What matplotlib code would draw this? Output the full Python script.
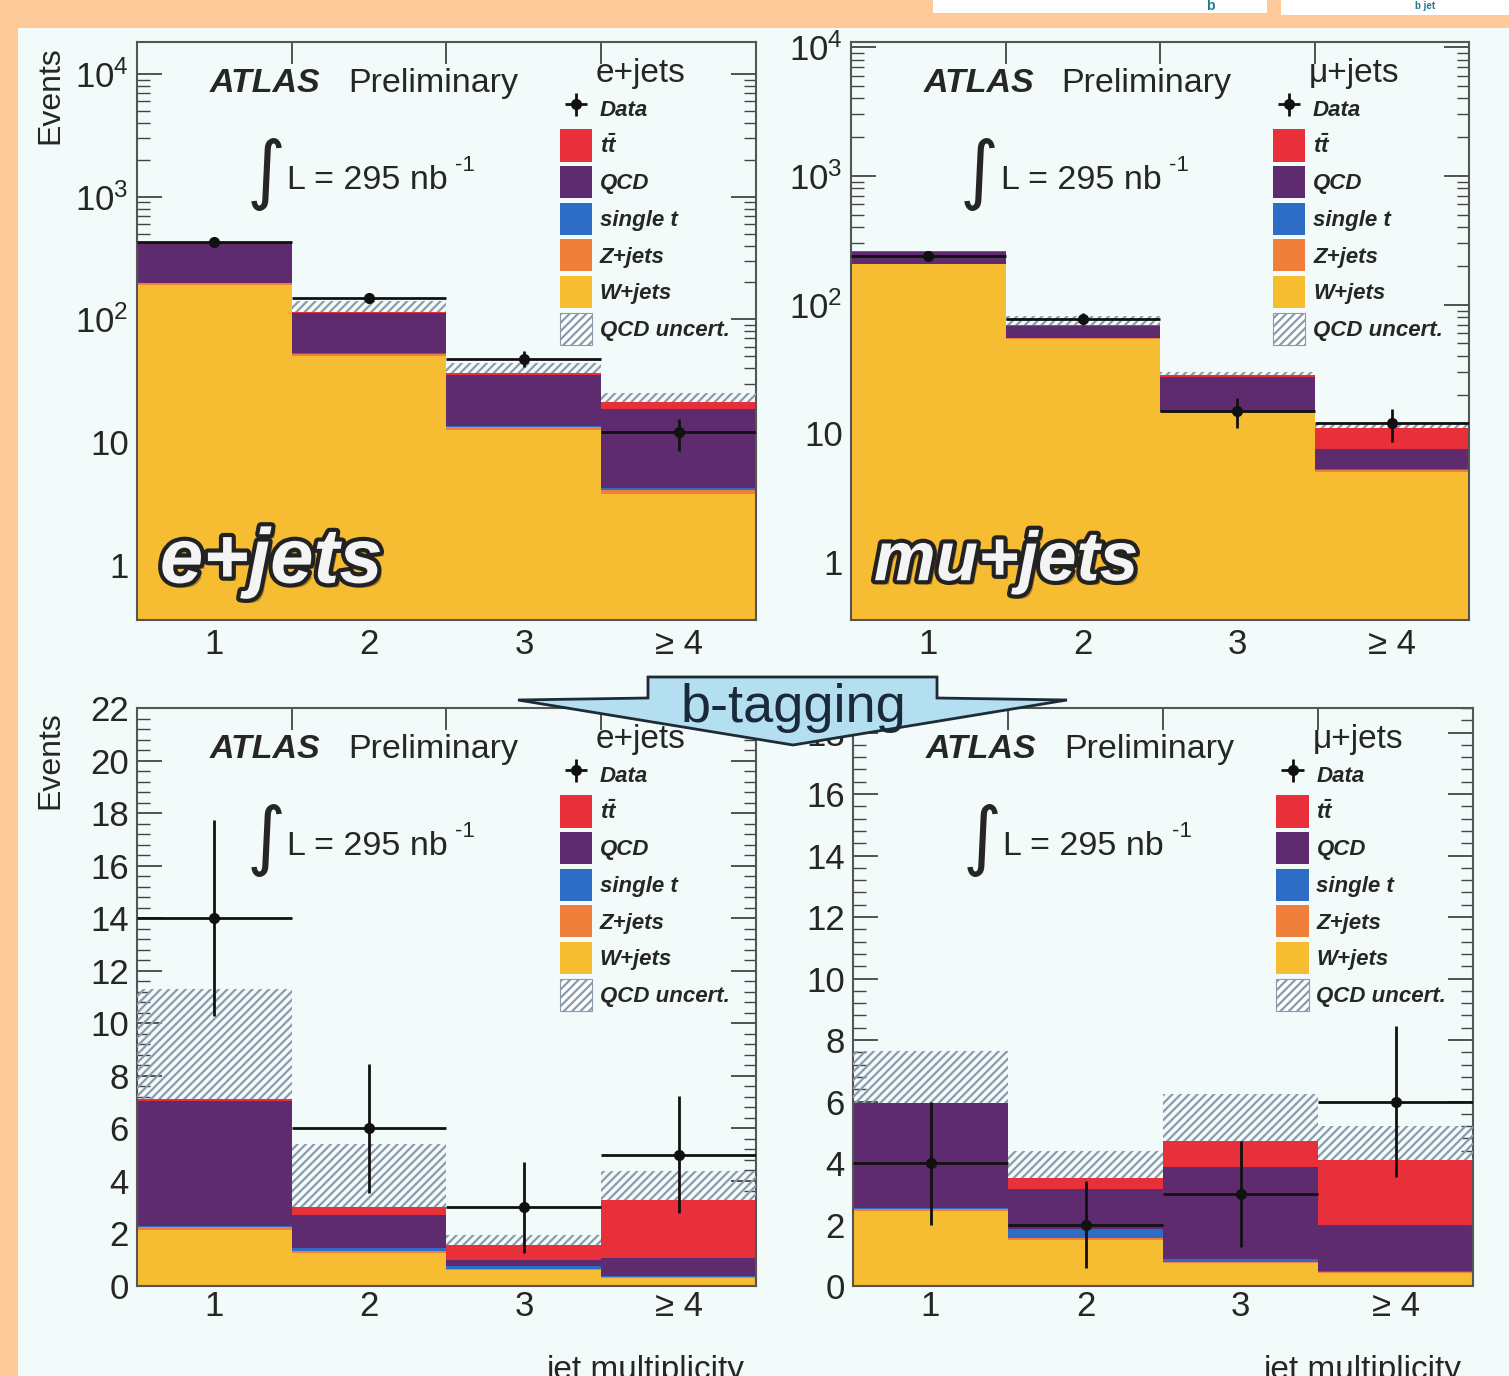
import numpy as np
import matplotlib
matplotlib.use('Agg')
import matplotlib.pyplot as plt
import matplotlib.patheffects as pe
from matplotlib.patches import Patch, Polygon, Rectangle
from matplotlib.ticker import FixedLocator, LogLocator, MultipleLocator, AutoMinorLocator, NullFormatter

plt.rcParams['font.family'] = ['Liberation Sans', 'DejaVu Sans']
plt.rcParams['mathtext.fontset'] = 'custom'
plt.rcParams['mathtext.rm'] = 'Liberation Sans'
plt.rcParams['mathtext.it'] = 'Liberation Sans:italic'
plt.rcParams['mathtext.bf'] = 'Liberation Sans:bold:italic'
plt.rcParams['hatch.linewidth'] = 1.6

# jet multiplicity bins
bin_labels = ['1', '2', '3', '\u2265 4']

samples = ['W+jets', 'Z+jets', 'single t', 'QCD', 'ttbar']
colors = {'W+jets': '#F6BC32', 'Z+jets': '#EF7F3B', 'single t': '#2E6DC6',
          'QCD': '#5E2C6E', 'ttbar': '#E8303A'}

## e+jets, pretag
el_w = [190, 50, 12.5, 3.8]
el_z = [8, 2.5, 0.7, 0.25]
el_st = [0.5, 0.5, 0.3, 0.15]
el_qcd = [230, 60, 21.5, 14.5]
el_tt = [1.0, 1.5, 1.8, 2.6]
el_unc = [0, 28, 7, 4]
el_data = [430, 150, 48, 12]
el_err = [20.7, 12.2, 6.9, 3.5]

## mu+jets, pretag
mu_w = [205, 54, 14.3, 5.0]
mu_z = [3, 1.0, 0.3, 0.15]
mu_st = [0.5, 0.4, 0.25, 0.15]
mu_qcd = [50, 13, 12.5, 2.2]
mu_tt = [1.0, 1.0, 1.2, 3.5]
mu_unc = [0, 12, 1.5, 1.3]
mu_data = [240, 78, 15, 12]
mu_err = [15.5, 8.8, 3.9, 3.5]

## e+jets, b-tagged
elb_w = [2.15, 1.25, 0.6, 0.3]
elb_z = [0.1, 0.1, 0.05, 0.03]
elb_st = [0.05, 0.1, 0.1, 0.05]
elb_qcd = [4.75, 1.25, 0.25, 0.7]
elb_tt = [0.05, 0.3, 0.55, 2.2]
elb_unc = [4.2, 2.4, 0.4, 1.1]
elb_data = [14, 6, 3, 5]
elb_err = [3.74, 2.45, 1.73, 2.24]

## mu+jets, b-tagged
mub_w = [2.45, 1.5, 0.75, 0.42]
mub_z = [0.05, 0.05, 0.03, 0.03]
mub_st = [0.05, 0.3, 0.1, 0.05]
mub_qcd = [3.4, 1.3, 3.0, 1.5]
mub_tt = [0.0, 0.35, 0.85, 2.1]
mub_unc = [1.7, 0.9, 1.5, 1.1]
mub_data = [4, 2, 3, 6]
mub_err = [2.0, 1.41, 1.73, 2.45]

TXT = '#262626'
HATCH = '#8C9BAB'
BG = '#F2FAFA'
PEACH = '#FFCA99'

W, H = 1509, 1376
fig = plt.figure(figsize=(W / 100, H / 100), dpi=100, facecolor=PEACH)
fig.patches.append(Rectangle((18 / W, 0), 1 - 18 / W, 1 - 28 / H, transform=fig.transFigure,
                             facecolor=BG, edgecolor='none', zorder=-10))
for x0, x1, y1 in [(933, 1267, 13), (1281, 1509, 15)]:
    fig.patches.append(Rectangle((x0 / W, 1 - y1 / H), (x1 - x0) / W, y1 / H,
                                 transform=fig.transFigure, facecolor='white',
                                 edgecolor='none', zorder=-9))
fig.text(1210 / W, 1 - 6 / H, 'b', fontsize=10, weight='bold', color='#1C7F8C',
         ha='center', va='center')
fig.text(1425 / W, 1 - 6 / H, 'b jet', fontsize=7, weight='bold', color='#1C7F8C',
         ha='center', va='center')


def px_axes(l, r, t, b):
    return fig.add_axes([l / W, 1 - b / H, (r - l) / W, (b - t) / H])


def panel(ax, stack, unc, data, err, log, ylim, chan, big=None, bigsize=56, xpad=6):
    x = np.arange(1, 5)
    bottom = np.zeros(4)
    for name, vals in zip(samples, stack):
        vals = np.asarray(vals, float)
        ax.bar(x, vals, width=1.0, bottom=bottom, color=colors[name], linewidth=0, zorder=2)
        bottom = bottom + vals
    # QCD uncertainty band above the stack
    ax.bar(x, unc, bottom=bottom, width=1.0, fill=False, hatch='////',
           edgecolor=HATCH, linewidth=0, zorder=3)
    eb = ax.errorbar(x, data, xerr=0.5, yerr=err, fmt='o', color='#111111', ms=7,
                     elinewidth=2, capsize=0, zorder=5)

    ax.set_facecolor(BG)
    ax.set_xlim(0.5, 4.5)
    if log:
        ax.set_yscale('log')
        ax.yaxis.set_major_locator(FixedLocator([1, 10, 100, 1000, 10000]))
        ax.set_yticklabels(['1', '10', '$10^{2}$', '$10^{3}$', '$10^{4}$'])
        ax.yaxis.set_minor_locator(LogLocator(subs=np.arange(2, 10)))
        ax.yaxis.set_minor_formatter(NullFormatter())
    else:
        ax.yaxis.set_major_locator(MultipleLocator(2))
        ax.yaxis.set_minor_locator(AutoMinorLocator(5))
    ax.set_ylim(*ylim)

    ax.set_xticks(x)
    ax.set_xticklabels(bin_labels)
    ax.set_xticks([1.5, 2.5, 3.5], minor=True)
    ax.tick_params(axis='x', which='major', length=0, pad=xpad, labelsize=25, labelcolor=TXT)
    ax.tick_params(axis='x', which='minor', length=16, width=1.3, direction='in',
                   top=True, bottom=True, color='#444')
    ax.tick_params(axis='y', which='both', direction='in', left=True, right=True,
                   color='#444', labelsize=25, labelcolor=TXT, pad=6)
    ax.tick_params(axis='y', which='major', length=18, width=1.3)
    ax.tick_params(axis='y', which='minor', length=9, width=1.0)
    for s in ax.spines.values():
        s.set_color('#555')
        s.set_linewidth(1.5)

    ax.text(0.118, 0.929, 'ATLAS', transform=ax.transAxes, fontsize=24.5, weight='bold',
            style='italic', color=TXT, va='center', ha='left')
    ax.text(0.341, 0.929, 'Preliminary', transform=ax.transAxes, fontsize=24.5,
            color=TXT, va='center', ha='left')
    ax.text(0.814, 0.946, chan, transform=ax.transAxes, fontsize=24, color=TXT,
            va='center', ha='center')
    ax.text(0.208, 0.77, '\u222b', transform=ax.transAxes, fontsize=54, color=TXT,
            va='center', ha='center', family=['DejaVu Sans'])
    ax.text(0.242, 0.761, 'L = 295 nb', transform=ax.transAxes, fontsize=24.5, color=TXT,
            va='center', ha='left')
    ax.text(0.514, 0.787, '-1', transform=ax.transAxes, fontsize=16, color=TXT,
            va='center', ha='left')

    handles = [eb,
               Patch(facecolor=colors['ttbar']),
               Patch(facecolor=colors['QCD']),
               Patch(facecolor=colors['single t']),
               Patch(facecolor=colors['Z+jets']),
               Patch(facecolor=colors['W+jets']),
               Patch(facecolor='white', edgecolor=HATCH, hatch='////', linewidth=0.8)]
    labels = ['Data', r'$\mathbf{t\bar{t}}$', 'QCD', 'single t', 'Z+jets', 'W+jets',
              'QCD uncert.']
    leg = ax.legend(handles, labels, loc='upper left', bbox_to_anchor=(0.683, 0.912),
                    frameon=False, borderpad=0, borderaxespad=0,
                    prop={'weight': 'bold', 'style': 'italic', 'size': 16},
                    handlelength=1.45, handleheight=1.85, labelspacing=0.2,
                    handletextpad=0.35)
    for t in leg.get_texts():
        t.set_color(TXT)
    leg.set_zorder(6)

    if big:
        ax.text(0.037, 0.10, big, transform=ax.transAxes, fontsize=bigsize, weight='bold',
                style='italic', color='#F4F4F4', va='center', ha='left', zorder=7,
                path_effects=[pe.withSimplePatchShadow(offset=(3, -3), shadow_rgbFace='#7a5a10',
                                                       alpha=0.6),
                              pe.Stroke(linewidth=6, foreground='#222222'),
                              pe.Normal()])


ax1 = px_axes(137, 756, 42, 620)
panel(ax1, [el_w, el_z, el_st, el_qcd, el_tt], el_unc, el_data, el_err, True,
      (0.356, 18200), 'e+jets', 'e+jets', 56)
ax2 = px_axes(851, 1469, 42, 620)
panel(ax2, [mu_w, mu_z, mu_st, mu_qcd, mu_tt], mu_unc, mu_data, mu_err, True,
      (0.355, 10965), '\u03bc+jets', 'mu+jets', 50)
ax3 = px_axes(137, 756, 708, 1286)
panel(ax3, [elb_w, elb_z, elb_st, elb_qcd, elb_tt], elb_unc, elb_data, elb_err, False,
      (0, 22), 'e+jets', xpad=3)
ax4 = px_axes(853, 1473, 708, 1286)
panel(ax4, [mub_w, mub_z, mub_st, mub_qcd, mub_tt], mub_unc, mub_data, mub_err, False,
      (0, 18.8), '\u03bc+jets', xpad=3)

for yc in (95, 760):
    fig.text(50 / W, 1 - yc / H, 'Events', rotation=90, fontsize=23, color=TXT,
             ha='center', va='center')
for xr in (745, 1462):
    fig.text(xr / W, 1 - 1370 / H, 'jet multiplicity', fontsize=24, color=TXT,
             ha='right', va='center')

# b-tagging arrow between the rows
arrow_px = [(518, 700), (648, 698), (648, 677), (937, 677), (937, 698), (1067, 700), (793, 745)]
fig.patches.append(Polygon([(x / W, 1 - y / H) for x, y in arrow_px], closed=True,
                           transform=fig.transFigure, facecolor='#B3DFF0',
                           edgecolor='#1E2A36', linewidth=2, zorder=20))
fig.text(793 / W, 1 - 722 / H, 'b-tagging', fontsize=39, color='#1A2A3A',
         ha='center', va='baseline', zorder=21)

fig.savefig('out.png', dpi=100, facecolor=PEACH)
